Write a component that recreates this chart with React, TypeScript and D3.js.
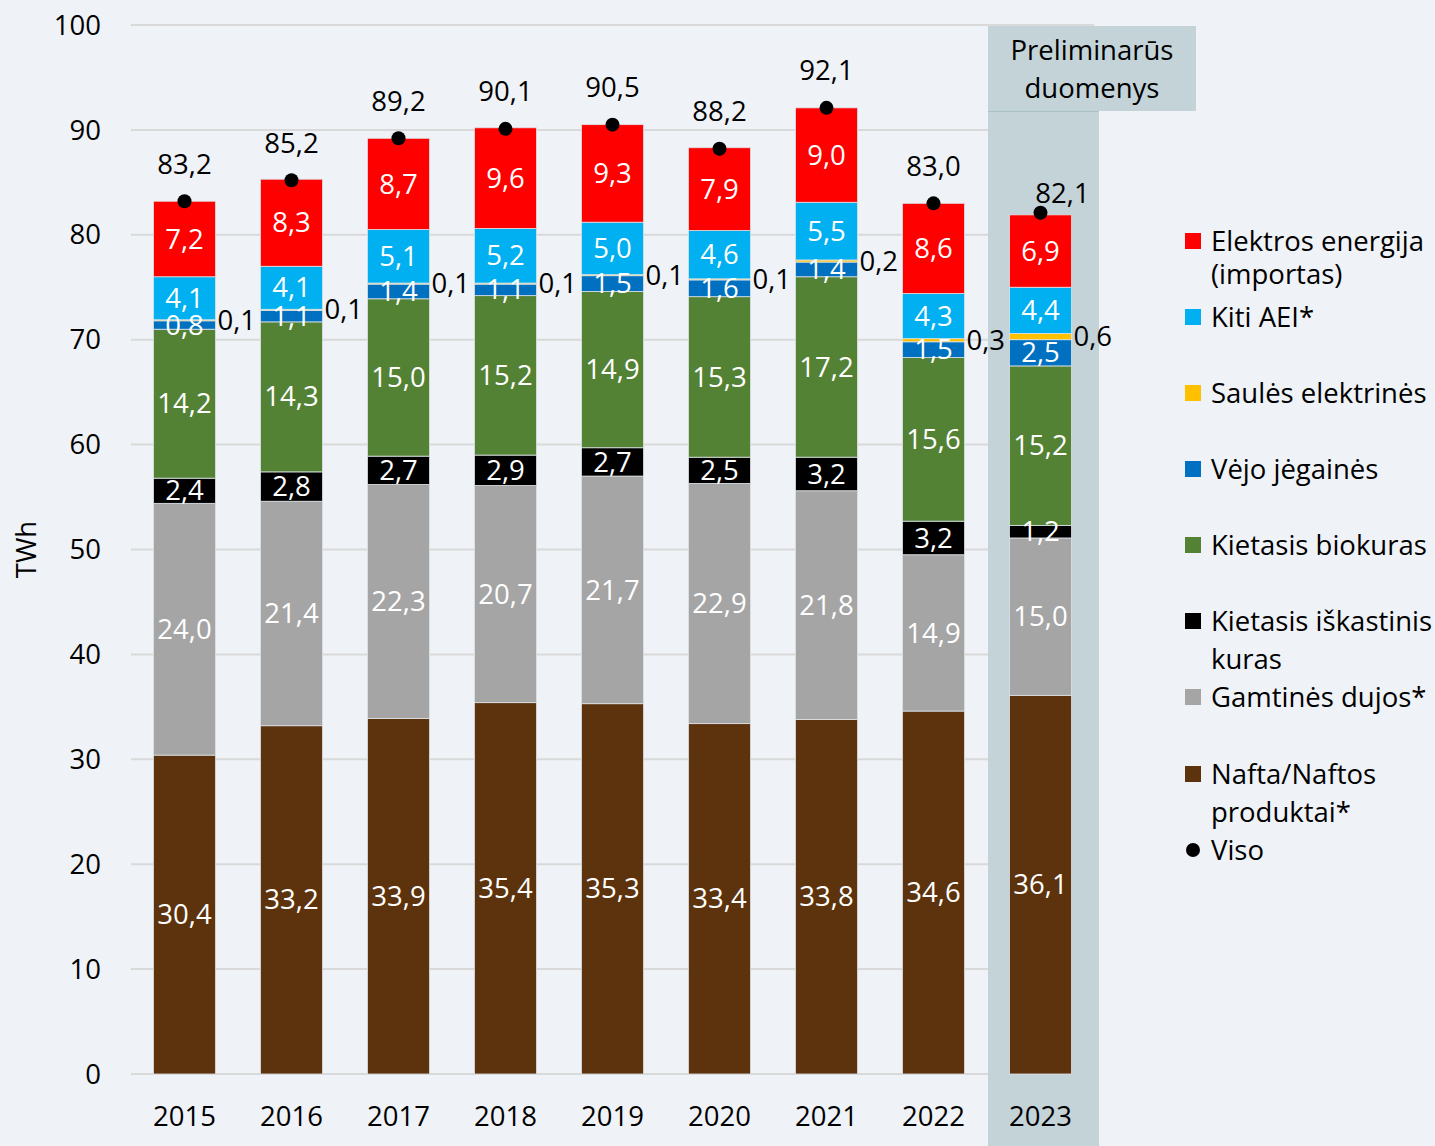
import React, { useEffect, useRef } from 'react';
import * as d3 from 'd3';

// Metai ir serijos (TWh), iš apačios į viršų
const years = ['2015', '2016', '2017', '2018', '2019', '2020', '2021', '2022', '2023'];
const nafta = [30.4, 33.2, 33.9, 35.4, 35.3, 33.4, 33.8, 34.6, 36.1];
const dujos = [24.0, 21.4, 22.3, 20.7, 21.7, 22.9, 21.8, 14.9, 15.0];
const iskastinis = [2.4, 2.8, 2.7, 2.9, 2.7, 2.5, 3.2, 3.2, 1.2];
const biokuras = [14.2, 14.3, 15.0, 15.2, 14.9, 15.3, 17.2, 15.6, 15.2];
const vejo = [0.8, 1.1, 1.4, 1.1, 1.5, 1.6, 1.4, 1.5, 2.5];
const saules = [0.1, 0.1, 0.1, 0.1, 0.1, 0.1, 0.2, 0.3, 0.6];
const kitiAei = [4.1, 4.1, 5.1, 5.2, 5.0, 4.6, 5.5, 4.3, 4.4];
const elektra = [7.2, 8.3, 8.7, 9.6, 9.3, 7.9, 9.0, 8.6, 6.9];
const viso = [83.2, 85.2, 89.2, 90.1, 90.5, 88.2, 92.1, 83.0, 82.1];
const yTicks = [0, 10, 20, 30, 40, 50, 60, 70, 80, 90, 100];

const series = [
  { key: 'nafta', values: nafta, color: '#5C330D', outside: false },
  { key: 'dujos', values: dujos, color: '#A5A5A5', outside: false },
  { key: 'iskastinis', values: iskastinis, color: '#000000', outside: false },
  { key: 'biokuras', values: biokuras, color: '#548235', outside: false },
  { key: 'vejo', values: vejo, color: '#0070C0', outside: false },
  { key: 'saules', values: saules, color: '#FFC000', outside: true },
  { key: 'kiti', values: kitiAei, color: '#00B0F0', outside: false },
  { key: 'elektra', values: elektra, color: '#FF0000', outside: false },
];

const legendItems = [
  { lines: ['Elektros energija', '(importas)'], color: '#FF0000' },
  { lines: ['Kiti AEI*'], color: '#00B0F0' },
  { lines: ['Saulės elektrinės'], color: '#FFC000' },
  { lines: ['Vėjo jėgainės'], color: '#0070C0' },
  { lines: ['Kietasis biokuras'], color: '#548235' },
  { lines: ['Kietasis iškastinis', 'kuras'], color: '#000000' },
  { lines: ['Gamtinės dujos*'], color: '#A5A5A5' },
  { lines: ['Nafta/Naftos', 'produktai*'], color: '#5C330D' },
  { lines: ['Viso'], color: '#000000', dot: true },
];

const fmt = (v: number) => v.toFixed(1).replace('.', ',');
const FONT = '"Open Sans", sans-serif';
const FS = '27.5px';

export default function App() {
  const ref = useRef<SVGSVGElement>(null);

  useEffect(() => {
    const svg = d3.select(ref.current);
    svg.selectAll('*').remove();

    const W = 1435, H = 1146;
    svg.append('rect').attr('width', W).attr('height', H).attr('fill', '#EFF2F6');

    const y = d3.scaleLinear().domain([0, 100]).range([1074, 25]);
    const x = d3.scaleBand().domain(years).range([131, 1094]).paddingInner(0.42).paddingOuter(0.21);
    const step = x.step();
    const bw = x.bandwidth();
    const cx = (yr: string) => (x(yr) as number) + bw / 2;

    // gridlines
    svg.append('g')
      .selectAll('line')
      .data(yTicks)
      .join('line')
      .attr('x1', 131)
      .attr('x2', 1094)
      .attr('y1', d => y(d))
      .attr('y2', d => y(d))
      .attr('stroke', '#D9D9D9')
      .attr('stroke-width', 2);

    // preliminary shading for 2023
    const s23 = cx('2023') - step / 2 + 1;
    svg.append('rect')
      .attr('x', s23).attr('y', 111)
      .attr('width', 111).attr('height', H - 111)
      .attr('fill', '#C3D3D8');
    svg.append('rect')
      .attr('x', s23).attr('y', 26)
      .attr('width', 208).attr('height', 85)
      .attr('fill', '#C3D3D8');
    svg.append('line')
      .attr('x1', s23).attr('x2', s23 + 111)
      .attr('y1', 111.5).attr('y2', 111.5)
      .attr('stroke', '#A9C0C6').attr('stroke-width', 1);
    const hdr = svg.append('text')
      .attr('text-anchor', 'middle')
      .style('font-family', FONT).style('font-size', FS).attr('fill', '#000');
    hdr.append('tspan').attr('x', s23 + 104).attr('y', 60).text('Preliminarūs');
    hdr.append('tspan').attr('x', s23 + 104).attr('y', 98).text('duomenys');

    // y tick labels
    svg.append('g')
      .selectAll('text')
      .data(yTicks)
      .join('text')
      .attr('x', 101)
      .attr('y', d => y(d))
      .attr('dy', '0.35em')
      .attr('text-anchor', 'end')
      .style('font-family', FONT).style('font-size', FS)
      .attr('fill', '#000')
      .text(d => d);

    svg.append('text')
      .attr('transform', `translate(36,${y(50)}) rotate(-90)`)
      .attr('text-anchor', 'middle')
      .style('font-family', FONT).style('font-size', FS)
      .attr('fill', '#000')
      .text('TWh');

    // x labels
    svg.append('g')
      .selectAll('text')
      .data(years)
      .join('text')
      .attr('x', d => cx(d))
      .attr('y', 1116)
      .attr('dy', '0.35em')
      .attr('text-anchor', 'middle')
      .style('font-family', FONT).style('font-size', FS)
      .attr('fill', '#000')
      .text(d => d);

    // stacked bars
    const table = years.map((yr, i) => {
      const row: Record<string, number | string> = { year: yr };
      series.forEach(s => { row[s.key] = s.values[i]; });
      return row;
    });
    const stack = d3.stack<Record<string, number | string>>().keys(series.map(s => s.key));
    const layers = stack(table as any);

    const barsG = svg.append('g');
    const labelsG = svg.append('g');
    layers.forEach((layer, li) => {
      const s = series[li];
      barsG.append('g').selectAll('rect')
        .data(layer)
        .join('rect')
        .attr('x', d => x(d.data.year as string) as number)
        .attr('y', d => y(d[1]))
        .attr('width', bw)
        .attr('height', d => y(d[0]) - y(d[1]))
        .attr('fill', s.color)
        .attr('stroke', '#DDE3E8')
        .attr('stroke-width', 0.8);

      labelsG.append('g').selectAll('text')
        .data(layer)
        .join('text')
        .attr('x', d => s.outside ? (x(d.data.year as string) as number) + bw + 2 : cx(d.data.year as string))
        .attr('y', d => y((d[0] + d[1]) / 2))
        .attr('dy', '0.35em')
        .attr('text-anchor', s.outside ? 'start' : 'middle')
        .style('font-family', FONT).style('font-size', FS)
        .attr('fill', s.outside ? '#000' : '#FFF')
        .text(d => fmt(d[1] - d[0]));
    });

    // totals
    const tg = svg.append('g');
    tg.selectAll('circle')
      .data(years)
      .join('circle')
      .attr('cx', d => cx(d))
      .attr('cy', (d, i) => y(viso[i]))
      .attr('r', 7)
      .attr('fill', '#000');
    tg.selectAll('text')
      .data(years)
      .join('text')
      .attr('x', d => cx(d) + (d === '2023' ? 22 : 0))
      .attr('y', (d, i) => y(viso[i]) - (d === '2023' ? 19 : 37))
      .attr('dy', '0.35em')
      .attr('text-anchor', 'middle')
      .style('font-family', FONT).style('font-size', FS)
      .attr('fill', '#000')
      .text((d, i) => fmt(viso[i]));

    // legend
    const legendY = [241, 317, 393, 469, 545, 621, 697, 774, 850];
    const lg = svg.append('g');
    legendItems.forEach((it, i) => {
      const ly = legendY[i];
      if (it.dot) {
        lg.append('circle').attr('cx', 1193).attr('cy', ly).attr('r', 7).attr('fill', it.color);
      } else {
        lg.append('rect').attr('x', 1185).attr('y', ly - 8).attr('width', 16).attr('height', 16).attr('fill', it.color);
      }
      it.lines.forEach((t, j) => {
        lg.append('text')
          .attr('x', 1211)
          .attr('y', ly + j * (i === 0 ? 33 : 38))
          .attr('dy', '0.35em')
          .style('font-family', FONT).style('font-size', FS)
          .attr('fill', '#000')
          .text(t);
      });
    });
  }, []);

  return (
    <div style={{ position: 'absolute', left: 0, top: 0 }}>
      <svg ref={ref} width={1435} height={1146} />
    </div>
  );
}
